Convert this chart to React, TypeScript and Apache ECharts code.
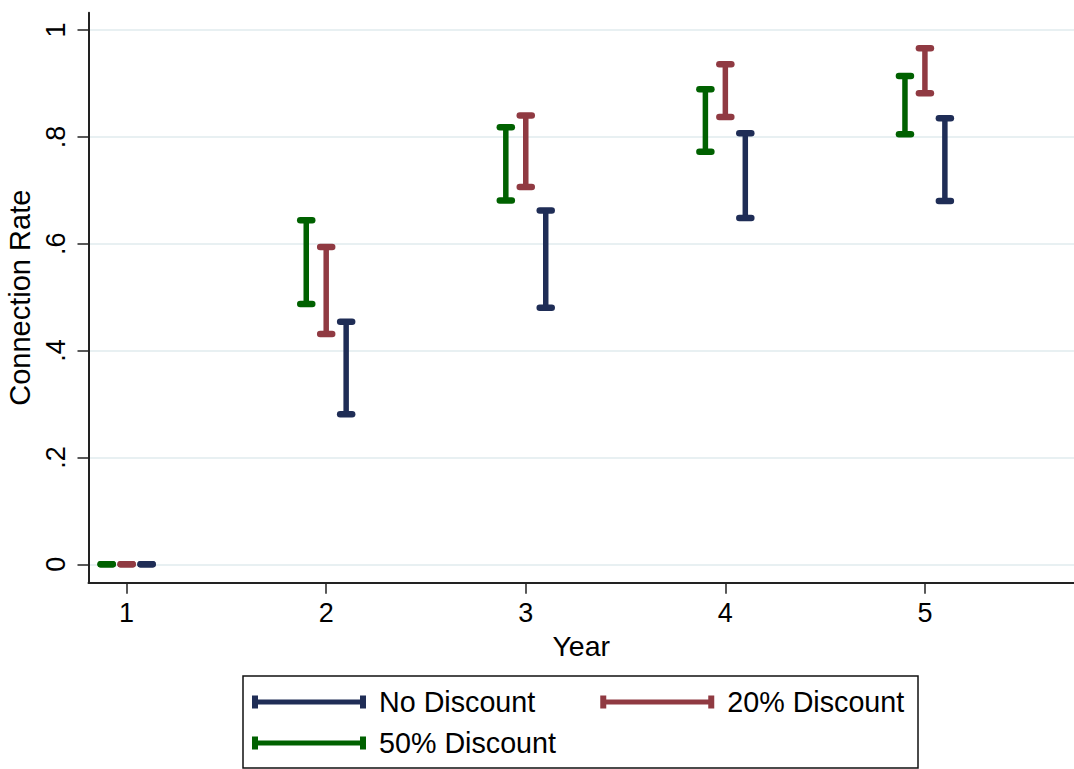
import React, { useEffect, useRef } from "react";
import * as echarts from "echarts";

const years = [1, 2, 3, 4, 5];
const yTicks = [0, 0.2, 0.4, 0.6, 0.8, 1];

const noDiscountLow = [0, 0.281, 0.48, 0.648, 0.68];
const noDiscountHigh = [0, 0.454, 0.662, 0.807, 0.835];
const disc20Low = [0, 0.431, 0.706, 0.837, 0.8815];
const disc20High = [0, 0.594, 0.84, 0.936, 0.966];
const disc50Low = [0, 0.487, 0.681, 0.772, 0.805];
const disc50High = [0, 0.644, 0.818, 0.889, 0.914];

const seriesNames = ["No Discount", "20% Discount", "50% Discount"];
const colors = ["#1f2d56", "#903a42", "#006100"];

const FONT = "'Liberation Sans', Arial, Helvetica, sans-serif";

const ICON = "path://M0,0 H6 V4 H108 V0 H114 V13 H108 V9 H6 V13 H0 Z";

function App() {
  const ref = useRef<HTMLDivElement>(null);

  useEffect(() => {
    if (!ref.current) return;
    const chart = echarts.init(ref.current, undefined, { renderer: "svg" });

    const build = (low: number[], high: number[], offset: number) =>
      years.map((y, i) => [y + offset, low[i], high[i]]);

    const renderItem = (params: any, api: any) => {
      const x = api.value(0);
      const lo = api.value(1);
      const hi = api.value(2);
      const p1 = api.coord([x, lo]);
      const p2 = api.coord([x, hi]);
      const color = api.visual("color");
      const hw = 6;
      return {
        type: "group",
        children: [
          {
            type: "line",
            shape: { x1: p1[0], y1: p1[1], x2: p2[0], y2: p2[1] },
            style: { stroke: color, lineWidth: 5.5 },
          },
          {
            type: "line",
            shape: { x1: p1[0] - hw, y1: p1[1], x2: p1[0] + hw, y2: p1[1] },
            style: { stroke: color, lineWidth: 6.5, lineCap: "round" },
          },
          {
            type: "line",
            shape: { x1: p2[0] - hw, y1: p2[1], x2: p2[0] + hw, y2: p2[1] },
            style: { stroke: color, lineWidth: 6.5, lineCap: "round" },
          },
        ],
      };
    };

    const datasets = [
      build(noDiscountLow, noDiscountHigh, 0.1),
      build(disc20Low, disc20High, 0),
      build(disc50Low, disc50High, -0.1),
    ];

    const legendText = {
      fontSize: 28.7,
      fontFamily: FONT,
      color: "#000",
      padding: [0, 0, 0, 8],
    };

    chart.setOption({
      animation: false,
      backgroundColor: "#fff",
      grid: {
        left: 88.5,
        right: 0,
        top: 12.7,
        bottom: 186.3,
        containLabel: false,
        outerBoundsMode: "none",
      },
      xAxis: {
        type: "value",
        min: 0.809,
        max: 5.747,
        name: "Year",
        nameLocation: "middle",
        nameGap: 45,
        nameTextStyle: { fontSize: 28.5, fontFamily: FONT, color: "#000" },
        axisLine: { onZero: false, lineStyle: { color: "#222", width: 2 } },
        axisTick: { show: true, length: 11, customValues: years, lineStyle: { color: "#222", width: 1.5 } },
        axisLabel: {
          customValues: years,
          fontSize: 27,
          fontFamily: FONT,
          color: "#000",
          margin: 17,
        },
        splitLine: { show: false },
      },
      yAxis: {
        type: "value",
        min: -0.0344,
        max: 1.0324,
        name: "Connection Rate",
        nameLocation: "middle",
        nameGap: 51,
        nameRotate: 90,
        nameTextStyle: { fontSize: 29, fontFamily: FONT, color: "#000" },
        axisLine: { show: true, onZero: false, lineStyle: { color: "#222", width: 2 } },
        axisTick: { show: true, length: 11, customValues: yTicks, lineStyle: { color: "#222", width: 1.5 } },
        axisLabel: {
          customValues: yTicks,
          rotate: 90,
          fontSize: 27,
          fontFamily: FONT,
          color: "#000",
          margin: 19,
          formatter: (v: number) => {
            if (Math.abs(v) < 1e-9) return "0";
            if (Math.abs(v - 1) < 1e-9) return "1";
            return String(Math.round(v * 10) / 10).replace(/^0/, "");
          },
        },
        splitLine: { show: true, lineStyle: { color: "#e8f0f2", width: 2 } },
      },
      legend: [
        {
          data: [seriesNames[0], seriesNames[1]],
          left: 252,
          top: 687.5,
          padding: 0,
          itemWidth: 114,
          itemHeight: 13,
          itemGap: 65,
          icon: ICON,
          selectedMode: false,
          textStyle: legendText,
        },
        {
          data: [seriesNames[2]],
          left: 252,
          top: 728.5,
          padding: 0,
          itemWidth: 114,
          itemHeight: 13,
          icon: ICON,
          selectedMode: false,
          textStyle: legendText,
        },
      ],
      graphic: [
        {
          type: "rect",
          shape: { x: 243, y: 676, width: 675, height: 92 },
          style: { fill: "none", stroke: "#111", lineWidth: 1.5 },
          silent: true,
        },
      ],
      series: seriesNames.map((name, i) => ({
        name,
        type: "custom",
        renderItem,
        itemStyle: { color: colors[i] },
        encode: { x: 0, y: [1, 2] },
        data: datasets[i],
      })),
    });

    return () => chart.dispose();
  }, []);

  return (
    <div
      ref={ref}
      style={{ position: "fixed", left: 0, top: 0, width: 1074, height: 769 }}
    />
  );
}

export default App;
